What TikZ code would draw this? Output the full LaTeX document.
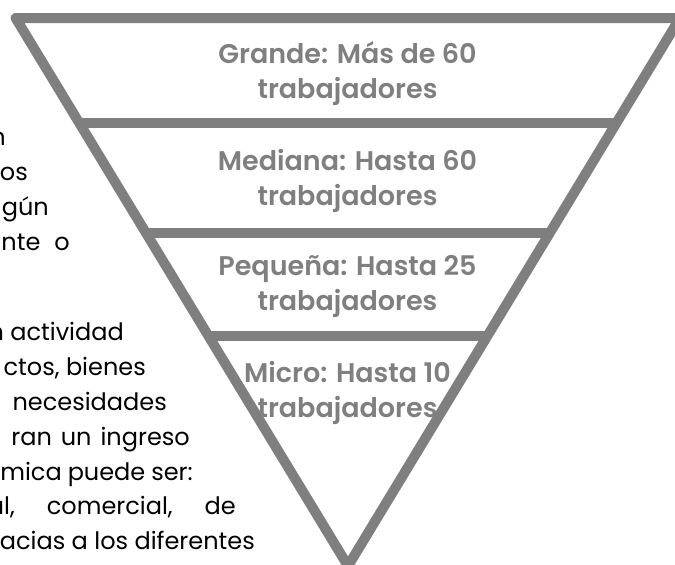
\documentclass[tikz,border=0pt]{standalone}
\usepackage{fontspec}
\setmainfont{Poppins}
\newfontfamily\labfont{Poppins SemiBold}
\usetikzlibrary{calc}
\definecolor{pyr}{HTML}{7F7F7F}
\tikzset{
  pyrline/.style={draw=pyr, line width=10pt, line join=round},
  pyrbar/.style={draw=pyr, line width=10pt, line cap=butt},
  lab/.style={text=pyr, font=\labfont\fontsize{27}{35}\selectfont, align=center, inner sep=0pt, anchor=base},
  body/.style={text=black, font=\fontsize{24}{35}\selectfont, inner sep=0pt, anchor=base east}
}
\begin{document}
\begin{tikzpicture}[x=1pt,y=-1pt]
\useasboundingbox (0,0) rectangle (675,565);
\clip (0,0) rectangle (675,565);
% triangle
\coordinate (tl) at (15.6,18);
\coordinate (tr) at (680,18);
\coordinate (ap) at (348,566);
\draw[pyrline] (tl) -- (tr) -- (ap) -- cycle;
\coordinate (l1) at ($(tl)!0.1916!(ap)$);
\coordinate (r1) at ($(tr)!0.1916!(ap)$);
\coordinate (l2) at ($(tl)!0.3923!(ap)$);
\coordinate (r2) at ($(tr)!0.3923!(ap)$);
\coordinate (l3) at ($(tl)!0.5803!(ap)$);
\coordinate (r3) at ($(tr)!0.5803!(ap)$);
\draw[pyrbar] (l1) -- (r1);
\draw[pyrbar] (l2) -- (r2);
\draw[pyrbar] (l3) -- (r3);
% labels (anchor base = baseline of the second line)
\node[lab] (grande) at (347.5,98) {Grande: Más de 60\\trabajadores};
\node[lab] (mediana) at (347.5,205) {Mediana: Hasta 60\\trabajadores};
\node[lab] (pequena) at (347.5,310) {Pequeña: Hasta 25\\trabajadores};
\node[lab] (micro) at (347.5,417) {Micro: Hasta 10\\trabajadores};
% body text (clipped at the left)
\node[body] (b1) at (6,145) {n};
\node[body] (b2) at (28,180) {os};
\node[body] (b3) at (49,215) {gún};
\node[body] (b4) at (70,250) {nte\hspace{14pt}o};
\node[body] (b5) at (124,340) {n actividad};
\node[body] (b6) at (146,375) {ctos, bienes};
\node[body] (b7) at (167,410) {necesidades};
\node[body] (b8) at (190,445) {ran\hspace{9pt}un\hspace{9pt}ingreso};
\node[body] (b9) at (193,480) {mica\hspace{6pt}puede\hspace{6pt}ser:};
\node[body] (b10) at (236,514) {al,\hspace{32pt}comercial,\hspace{32pt}de};
\node[body] (b11) at (255,549) {acias a los diferentes};
\end{tikzpicture}
\end{document}
